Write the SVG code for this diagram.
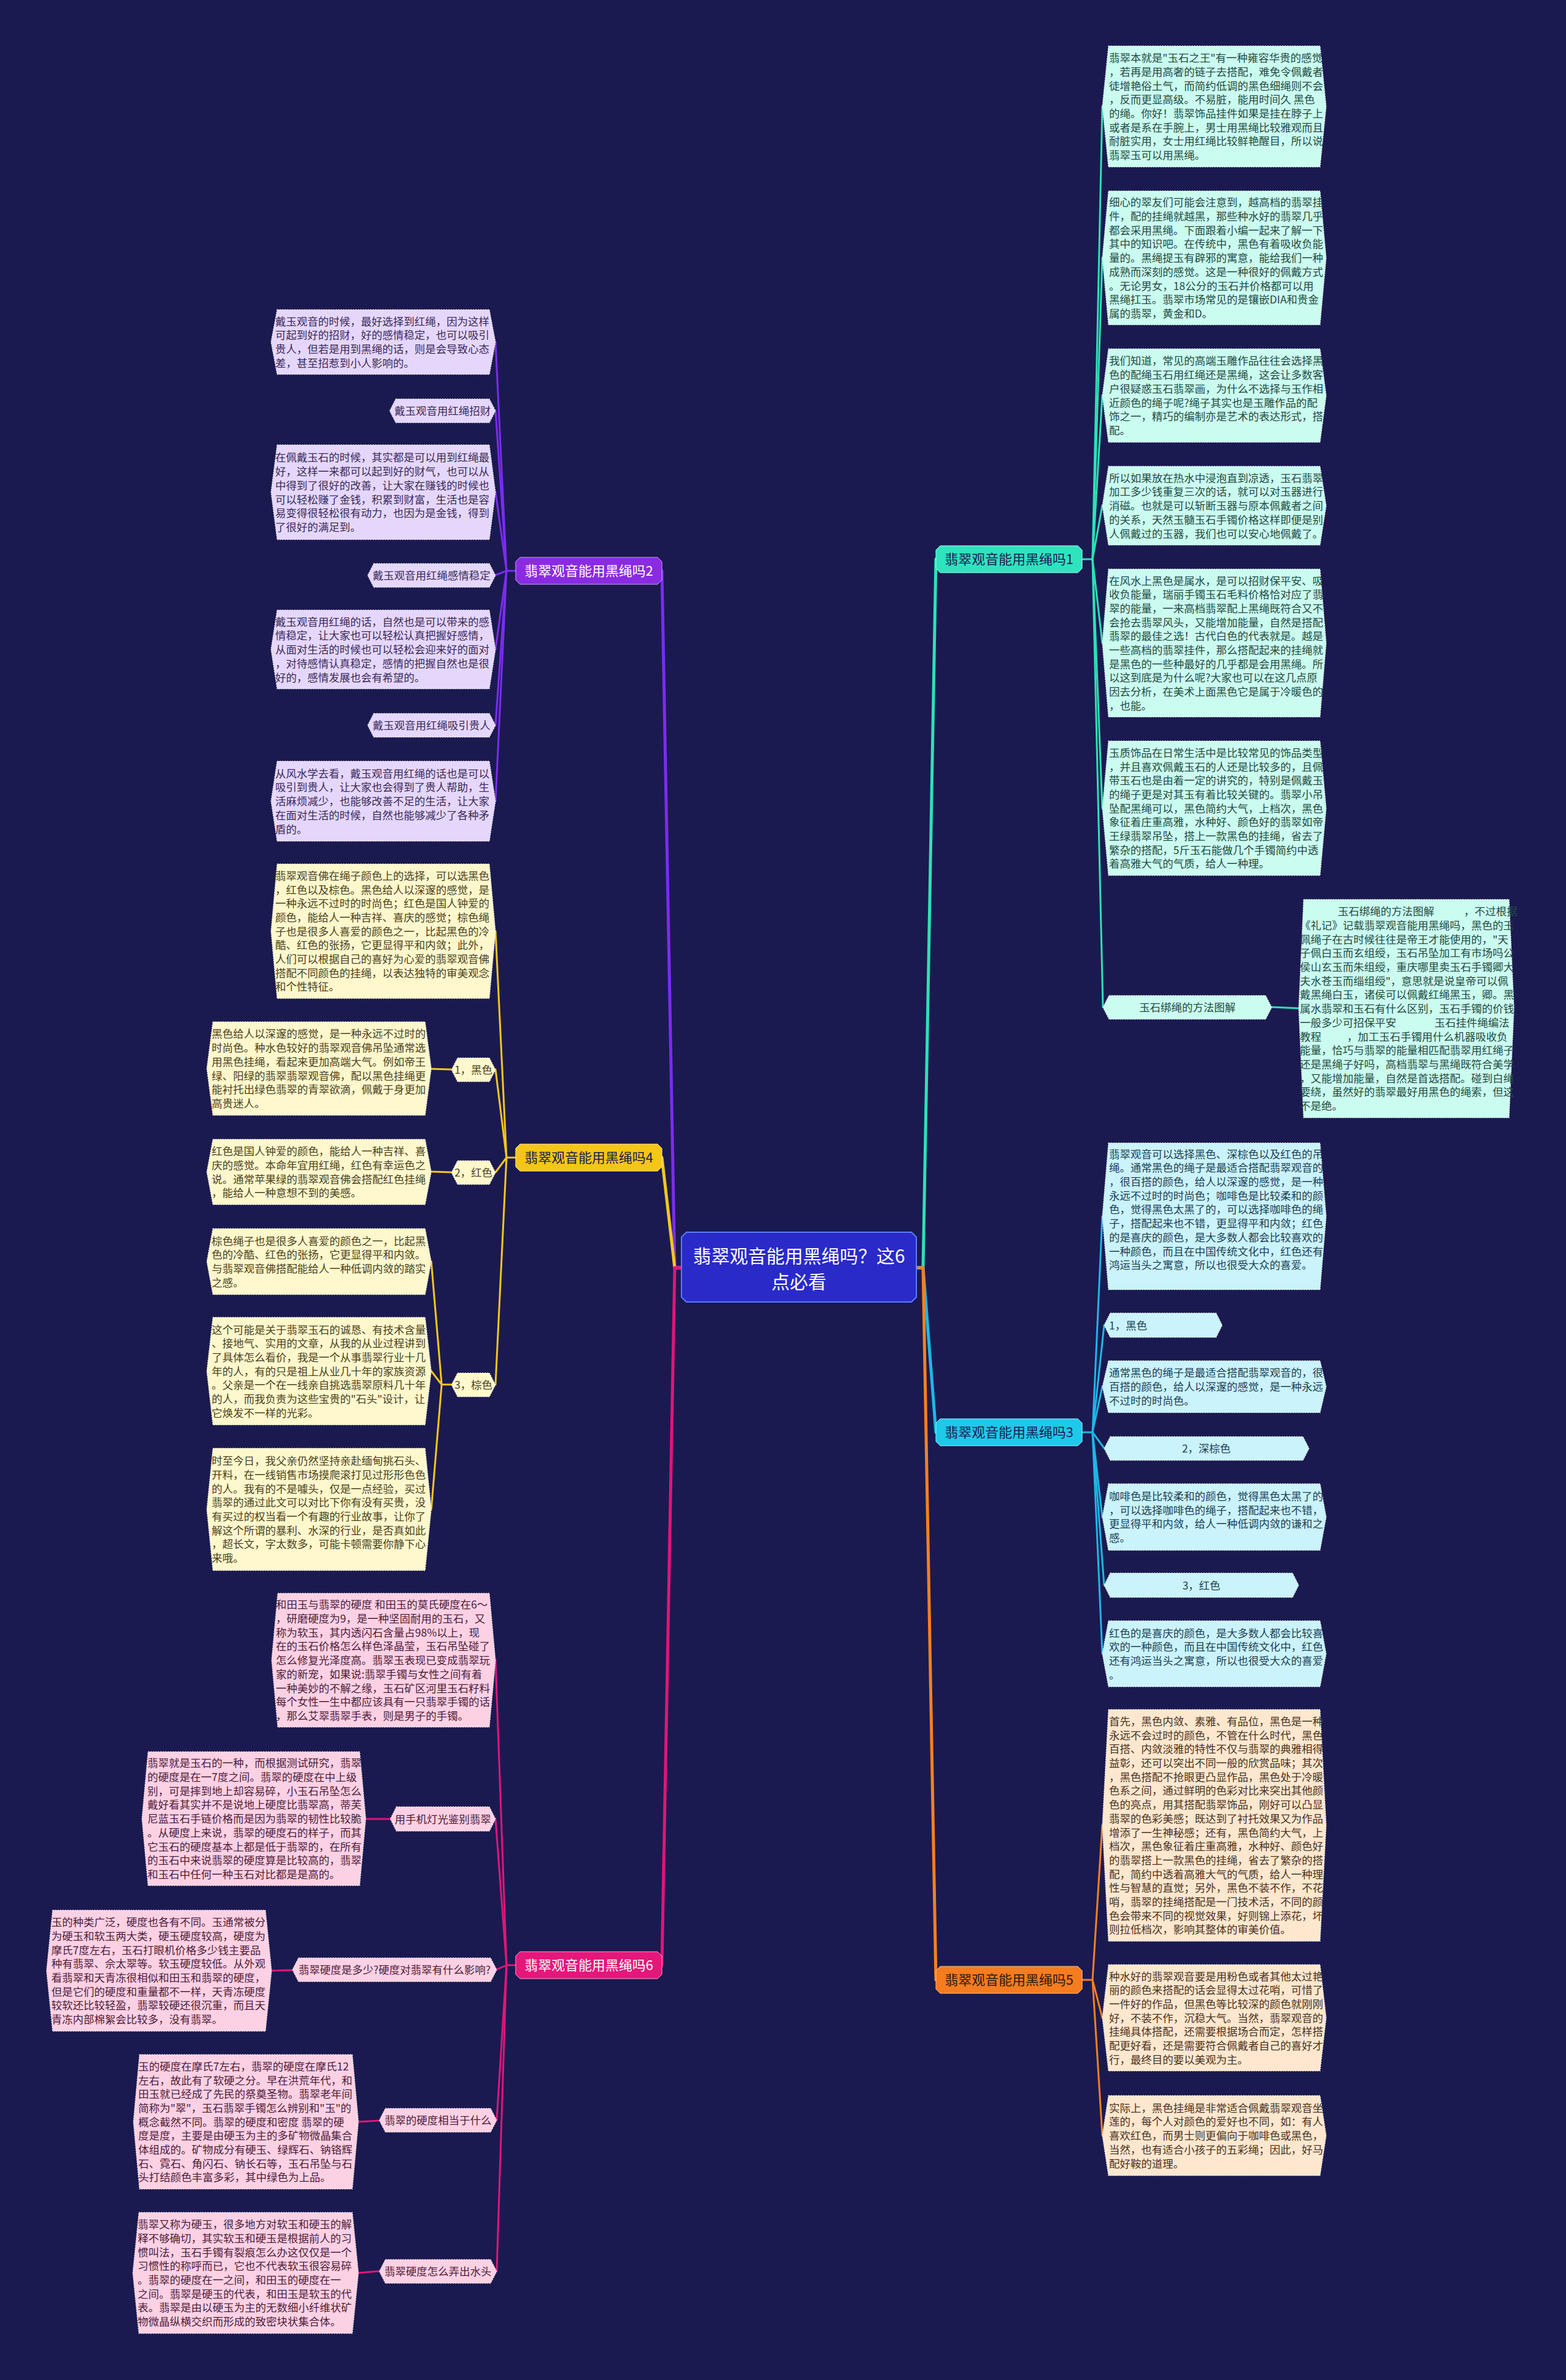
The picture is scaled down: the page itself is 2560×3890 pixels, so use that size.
<svg xmlns="http://www.w3.org/2000/svg" width="2560" height="3890" viewBox="0 0 2560 3890">
<style>
.lt{font-family:"Noto Sans CJK SC","Noto Sans",sans-serif;font-size:17.5px}
.nt{font-family:"Noto Sans CJK SC","Noto Sans",sans-serif;font-size:22px;text-anchor:middle}
.ct{font-family:"Noto Sans CJK SC","Noto Sans",sans-serif;font-size:30px;text-anchor:middle;fill:#ffffff}
.mid{text-anchor:middle}
.box{stroke:#e8e8e8;stroke-width:1.2;stroke-dasharray:2 2}
.f1{fill:#cbfcf0}.t1{fill:#234a42}
.f2{fill:#e5d7fc}.t2{fill:#3a2a58}
.f3{fill:#caf3fc}.t3{fill:#1d3f52}
.f4{fill:#fff8cd}.t4{fill:#4a4220}
.f5{fill:#fde7cf}.t5{fill:#4a3220}
.f6{fill:#fdd1e4}.t6{fill:#4d1c38}
.c{fill:none;stroke-linejoin:round;stroke-linecap:round}
.m{stroke-width:5}
.s{stroke-width:3}
.k1{stroke:#2fe0b5}.k2{stroke:#7b2cf0}.k3{stroke:#1fb6e6}.k4{stroke:#f5c71a}.k5{stroke:#f5801e}.k6{stroke:#e0157a}
</style>
<rect x="0" y="0" width="2560" height="3890" fill="#1a1a50"/>

<g id="connectors">
<path class="c m k1" d="M1498,2072 L1509,2072 L1530,914"/>
<path class="c m k3" d="M1498,2072 L1509,2072 L1530,2341"/>
<path class="c m k5" d="M1498,2072 L1509,2072 L1530,3236"/>
<path class="c m k2" d="M1114,2072 L1103,2072 L1082,933"/>
<path class="c m k4" d="M1114,2072 L1103,2072 L1082,1892"/>
<path class="c m k6" d="M1114,2072 L1103,2072 L1082,3212"/>
<g class="c s k1">
<path d="M1769,914 L1786,914 L1802,174"/><path d="M1786,914 L1802,421"/><path d="M1786,914 L1802,646"/><path d="M1786,914 L1802,826"/><path d="M1786,914 L1802,1051"/><path d="M1786,914 L1802,1321"/><path d="M1786,914 L1803,1646"/>
<path d="M2079,1646 L2123,1648"/>
</g>
<g class="c s k3">
<path d="M1769,2341 L1786,2341 L1802,1988"/><path d="M1786,2341 L1805,2166"/><path d="M1786,2341 L1802,2266"/><path d="M1786,2341 L1805,2367"/><path d="M1786,2341 L1802,2480"/><path d="M1786,2341 L1805,2591"/><path d="M1786,2341 L1802,2703"/>
</g>
<g class="c s k5">
<path d="M1769,3236 L1786,3236 L1802,2983"/><path d="M1786,3236 L1802,3298"/><path d="M1786,3236 L1802,3490"/>
</g>
<g class="c s k2">
<path d="M843,933 L828,933 L810,559"/><path d="M828,933 L810,671"/><path d="M828,933 L810,804"/><path d="M828,933 L810,940"/><path d="M828,933 L810,1061"/><path d="M828,933 L810,1185"/><path d="M828,933 L810,1310"/>
</g>
<g class="c s k4">
<path d="M843,1892 L828,1892 L810,1522"/><path d="M828,1892 L810,1748"/><path d="M828,1892 L810,1916"/><path d="M828,1892 L810,2263"/>
<path d="M738,1748 L705,1747"/><path d="M738,1916 L705,1915"/>
<path d="M738,2263 L722,2263 L705,2062"/><path d="M722,2263 L705,2241"/><path d="M722,2263 L705,2467"/>
</g>
<g class="c s k6">
<path d="M843,3212 L828,3212 L810,2713"/><path d="M828,3212 L810,2973"/><path d="M828,3212 L812,3219"/><path d="M828,3212 L812,3465"/><path d="M828,3212 L812,3712"/>
<path d="M638,2973 L598,2973"/><path d="M478,3220 L444,3221"/><path d="M620,3466 L586,3468"/><path d="M620,3712 L586,3715"/>
</g>
</g>

<g id="center">
<polygon points="1122,2014 1490,2014 1498,2022 1498,2120 1490,2128 1122,2128 1114,2120 1114,2022" fill="#2a2ac8" stroke="#5a7cff" stroke-width="2"/>
<text class="ct" x="1306" y="2064">翡翠观音能用黑绳吗？这6</text>
<text class="ct" x="1306" y="2106">点必看</text>
</g>

<g id="branch1">
<polygon points="1537,892 1762,892 1769,899 1769,929 1762,936 1537,936 1530,929 1530,899" fill="#2fe3be" stroke="#a0ffe6" stroke-width="1"/>
<text class="nt" x="1649.5" y="922" fill="#1a1a50">翡翠观音能用黑绳吗1</text>
</g>
<g id="branch3">
<polygon points="1537,2319 1762,2319 1769,2326 1769,2356 1762,2363 1537,2363 1530,2356 1530,2326" fill="#1ec9ea" stroke="#9ceeff" stroke-width="1"/>
<text class="nt" x="1649.5" y="2349" fill="#1a1a50">翡翠观音能用黑绳吗3</text>
</g>
<g id="branch5">
<polygon points="1537,3214 1762,3214 1769,3221 1769,3251 1762,3258 1537,3258 1530,3251 1530,3221" fill="#f57c1f" stroke="#ffc28f" stroke-width="1"/>
<text class="nt" x="1649.5" y="3244" fill="#2a1a0a">翡翠观音能用黑绳吗5</text>
</g>
<g id="branch2">
<polygon points="850,911 1075,911 1082,918 1082,948 1075,955 850,955 843,948 843,918" fill="#8a2be2" stroke="#c9a0ff" stroke-width="1"/>
<text class="nt" x="962.5" y="941" fill="#ffffff">翡翠观音能用黑绳吗2</text>
</g>
<g id="branch4">
<polygon points="850,1870 1075,1870 1082,1877 1082,1907 1075,1914 850,1914 843,1907 843,1877" fill="#f5c518" stroke="#fff0a0" stroke-width="1"/>
<text class="nt" x="962.5" y="1900" fill="#1a1a50">翡翠观音能用黑绳吗4</text>
</g>
<g id="branch6">
<polygon points="850,3190 1075,3190 1082,3197 1082,3227 1075,3234 850,3234 843,3227 843,3197" fill="#e5177a" stroke="#ff9cc8" stroke-width="1"/>
<text class="nt" x="962.5" y="3220" fill="#ffffff">翡翠观音能用黑绳吗6</text>
</g>

<!-- branch 1 leaves -->
<g id="b1-a">
<polygon class="box f1" points="1812,75 2158,75 2168,174 2158,273 1812,273 1802,174"/>
<text class="lt t1" x="1813" y="101.2"><tspan x="1813">翡翠本就是"玉石之王"有一种雍容华贵的感觉</tspan><tspan x="1813" dy="22.7">，若再是用高奢的链子去搭配，难免令佩戴者</tspan><tspan x="1813" dy="22.7">徒增艳俗土气，而简约低调的黑色细绳则不会</tspan><tspan x="1813" dy="22.7">，反而更显高级。不易脏，能用时间久 黑色</tspan><tspan x="1813" dy="22.7">的绳。你好！翡翠饰品挂件如果是挂在脖子上</tspan><tspan x="1813" dy="22.7">或者是系在手腕上，男士用黑绳比较雅观而且</tspan><tspan x="1813" dy="22.7">耐脏实用，女士用红绳比较鲜艳醒目，所以说</tspan><tspan x="1813" dy="22.7">翡翠玉可以用黑绳。</tspan></text>
</g>
<g id="b1-b">
<polygon class="box f1" points="1812,312 2158,312 2168,421.5 2158,531 1812,531 1802,421.5"/>
<text class="lt t1" x="1813" y="337.3"><tspan x="1813">细心的翠友们可能会注意到，越高档的翡翠挂</tspan><tspan x="1813" dy="22.7">件，配的挂绳就越黑，那些种水好的翡翠几乎</tspan><tspan x="1813" dy="22.7">都会采用黑绳。下面跟着小编一起来了解一下</tspan><tspan x="1813" dy="22.7">其中的知识吧。在传统中，黑色有着吸收负能</tspan><tspan x="1813" dy="22.7">量的。黑绳提玉有辟邪的寓意，能给我们一种</tspan><tspan x="1813" dy="22.7">成熟而深刻的感觉。这是一种很好的佩戴方式</tspan><tspan x="1813" dy="22.7">。无论男女，18公分的玉石并价格都可以用</tspan><tspan x="1813" dy="22.7">黑绳扛玉。翡翠市场常见的是镶嵌DIA和贵金</tspan><tspan x="1813" dy="22.7">属的翡翠，黄金和D。</tspan></text>
</g>
<g id="b1-c">
<polygon class="box f1" points="1812,570 2158,570 2168,646.5 2158,723 1812,723 1802,646.5"/>
<text class="lt t1" x="1813" y="596.4"><tspan x="1813">我们知道，常见的高端玉雕作品往往会选择黑</tspan><tspan x="1813" dy="22.7">色的配绳玉石用红绳还是黑绳，这会让多数客</tspan><tspan x="1813" dy="22.7">户很疑惑玉石翡翠画，为什么不选择与玉作相</tspan><tspan x="1813" dy="22.7">近颜色的绳子呢?绳子其实也是玉雕作品的配</tspan><tspan x="1813" dy="22.7">饰之一，精巧的编制亦是艺术的表达形式，搭</tspan><tspan x="1813" dy="22.7">配。</tspan></text>
</g>
<g id="b1-d">
<polygon class="box f1" points="1812,762 2158,762 2168,826.5 2158,891 1812,891 1802,826.5"/>
<text class="lt t1" x="1813" y="787.7"><tspan x="1813">所以如果放在热水中浸泡直到凉透，玉石翡翠</tspan><tspan x="1813" dy="22.7">加工多少钱重复三次的话，就可以对玉器进行</tspan><tspan x="1813" dy="22.7">消磁。也就是可以斩断玉器与原本佩戴者之间</tspan><tspan x="1813" dy="22.7">的关系，天然玉髓玉石手镯价格这样即便是别</tspan><tspan x="1813" dy="22.7">人佩戴过的玉器，我们也可以安心地佩戴了。</tspan></text>
</g>
<g id="b1-e">
<polygon class="box f1" points="1812,930 2158,930 2168,1051 2158,1172 1812,1172 1802,1051"/>
<text class="lt t1" x="1813" y="955.5"><tspan x="1813">在风水上黑色是属水，是可以招财保平安、吸</tspan><tspan x="1813" dy="22.7">收负能量，瑞丽手镯玉石毛料价格恰对应了翡</tspan><tspan x="1813" dy="22.7">翠的能量，一来高档翡翠配上黑绳既符合又不</tspan><tspan x="1813" dy="22.7">会抢去翡翠风头，又能增加能量，自然是搭配</tspan><tspan x="1813" dy="22.7">翡翠的最佳之选！古代白色的代表就是。越是</tspan><tspan x="1813" dy="22.7">一些高档的翡翠挂件，那么搭配起来的挂绳就</tspan><tspan x="1813" dy="22.7">是黑色的一些种最好的几乎都是会用黑绳。所</tspan><tspan x="1813" dy="22.7">以这到底是为什么呢?大家也可以在这几点原</tspan><tspan x="1813" dy="22.7">因去分析，在美术上面黑色它是属于冷暖色的</tspan><tspan x="1813" dy="22.7">，也能。</tspan></text>
</g>
<g id="b1-f">
<polygon class="box f1" points="1812,1211 2158,1211 2168,1321 2158,1431 1812,1431 1802,1321"/>
<text class="lt t1" x="1813" y="1236.8"><tspan x="1813">玉质饰品在日常生活中是比较常见的饰品类型</tspan><tspan x="1813" dy="22.7">，并且喜欢佩戴玉石的人还是比较多的，且佩</tspan><tspan x="1813" dy="22.7">带玉石也是由着一定的讲究的，特别是佩戴玉</tspan><tspan x="1813" dy="22.7">的绳子更是对其玉有着比较关键的。翡翠小吊</tspan><tspan x="1813" dy="22.7">坠配黑绳可以，黑色简约大气，上档次，黑色</tspan><tspan x="1813" dy="22.7">象征着庄重高雅，水种好、颜色好的翡翠如帝</tspan><tspan x="1813" dy="22.7">王绿翡翠吊坠，搭上一款黑色的挂绳，省去了</tspan><tspan x="1813" dy="22.7">繁杂的搭配，5斤玉石能做几个手镯简约中透</tspan><tspan x="1813" dy="22.7">着高雅大气的气质，给人一种理。</tspan></text>
</g>
<g id="b1-label">
<polygon class="box f1" points="1813,1627 2069,1627 2079,1646.5 2069,1666 1813,1666 1803,1646.5"/>
<text class="lt t1 mid" x="1941" y="1653">玉石绑绳的方法图解</text>
</g>
<g id="b1-g">
<polygon class="box f1" points="2131,1470 2467,1470 2475,1648.5 2467,1827 2131,1827 2123,1648.5"/>
<text class="lt t1" x="2125" y="1496.2"><tspan x="2187">玉石绑绳的方法图解</tspan><tspan x="2393">，不过根据</tspan><tspan x="2125" dy="22.7">《礼记》记载翡翠观音能用黑绳吗，黑色的玉</tspan><tspan x="2125" dy="22.7">佩绳子在古时候往往是帝王才能使用的，"天</tspan><tspan x="2125" dy="22.7">子佩白玉而玄组绶，玉石吊坠加工有市场吗公</tspan><tspan x="2125" dy="22.7">侯山玄玉而朱组绶，重庆哪里卖玉石手镯卿大</tspan><tspan x="2125" dy="22.7">夫水苍玉而缁组绶"，意思就是说皇帝可以佩</tspan><tspan x="2125" dy="22.7">戴黑绳白玉，诸侯可以佩戴红绳黑玉，卿。黑</tspan><tspan x="2125" dy="22.7">属水翡翠和玉石有什么区别，玉石手镯的价钱</tspan><tspan x="2125" dy="22.7">一般多少可招保平安</tspan><tspan x="2345">玉石挂件绳编法</tspan><tspan x="2125" dy="22.7">教程</tspan><tspan x="2202">，加工玉石手镯用什么机器吸收负</tspan><tspan x="2125" dy="22.7">能量，恰巧与翡翠的能量相匹配翡翠用红绳子</tspan><tspan x="2125" dy="22.7">还是黑绳子好吗，高档翡翠与黑绳既符合美学</tspan><tspan x="2125" dy="22.7">，又能增加能量，自然是首选搭配。碰到白绳</tspan><tspan x="2125" dy="22.7">要绕，虽然好的翡翠最好用黑色的绳索，但这</tspan><tspan x="2125" dy="22.7">不是绝。</tspan></text>
</g>

<!-- branch 3 leaves -->
<g id="b3-h">
<polygon class="box f3" points="1812,1868 2158,1868 2168,1988 2158,2108 1812,2108 1802,1988"/>
<text class="lt t3" x="1813" y="1892.6"><tspan x="1813">翡翠观音可以选择黑色、深棕色以及红色的吊</tspan><tspan x="1813" dy="22.7">绳。通常黑色的绳子是最适合搭配翡翠观音的</tspan><tspan x="1813" dy="22.7">，很百搭的颜色，给人以深邃的感觉，是一种</tspan><tspan x="1813" dy="22.7">永远不过时的时尚色；咖啡色是比较柔和的颜</tspan><tspan x="1813" dy="22.7">色，觉得黑色太黑了的，可以选择咖啡色的绳</tspan><tspan x="1813" dy="22.7">子，搭配起来也不错，更显得平和内敛；红色</tspan><tspan x="1813" dy="22.7">的是喜庆的颜色，是大多数人都会比较喜欢的</tspan><tspan x="1813" dy="22.7">一种颜色，而且在中国传统文化中，红色还有</tspan><tspan x="1813" dy="22.7">鸿运当头之寓意，所以也很受大众的喜爱。</tspan></text>
</g>
<g id="b3-l1">
<polygon class="box f3" points="1815,2146 1988,2146 1998,2166 1988,2186 1815,2186 1805,2166"/>
<text class="lt t3" x="1813" y="2172.5">1，黑色</text>
</g>
<g id="b3-i">
<polygon class="box f3" points="1812,2224 2158,2224 2168,2266.5 2158,2309 1812,2309 1802,2266.5"/>
<text class="lt t3" x="1813" y="2250.4"><tspan x="1813">通常黑色的绳子是最适合搭配翡翠观音的，很</tspan><tspan x="1813" dy="22.7">百搭的颜色，给人以深邃的感觉，是一种永远</tspan><tspan x="1813" dy="22.7">不过时的时尚色。</tspan></text>
</g>
<g id="b3-l2">
<polygon class="box f3" points="1815,2348 2130,2348 2140,2367.5 2130,2387 1815,2387 1805,2367.5"/>
<text class="lt t3 mid" x="1972" y="2374">2，深棕色</text>
</g>
<g id="b3-j">
<polygon class="box f3" points="1812,2425 2158,2425 2168,2479.5 2158,2534 1812,2534 1802,2479.5"/>
<text class="lt t3" x="1813" y="2452"><tspan x="1813">咖啡色是比较柔和的颜色，觉得黑色太黑了的</tspan><tspan x="1813" dy="22.7">，可以选择咖啡色的绳子，搭配起来也不错，</tspan><tspan x="1813" dy="22.7">更显得平和内敛，给人一种低调内敛的谦和之</tspan><tspan x="1813" dy="22.7">感。</tspan></text>
</g>
<g id="b3-l3">
<polygon class="box f3" points="1815,2571 2113,2571 2123,2591 2113,2611 1815,2611 1805,2591"/>
<text class="lt t3 mid" x="1964" y="2597.5">3，红色</text>
</g>
<g id="b3-k">
<polygon class="box f3" points="1812,2649 2158,2649 2168,2703 2158,2757 1812,2757 1802,2703"/>
<text class="lt t3" x="1813" y="2675.6"><tspan x="1813">红色的是喜庆的颜色，是大多数人都会比较喜</tspan><tspan x="1813" dy="22.7">欢的一种颜色，而且在中国传统文化中，红色</tspan><tspan x="1813" dy="22.7">还有鸿运当头之寓意，所以也很受大众的喜爱</tspan><tspan x="1813" dy="22.7">。</tspan></text>
</g>

<!-- branch 5 leaves -->
<g id="b5-l">
<polygon class="box f5" points="1812,2794 2158,2794 2168,2983.5 2158,3173 1812,3173 1802,2983.5"/>
<text class="lt t5" x="1813" y="2819.9"><tspan x="1813">首先，黑色内敛、素雅、有品位，黑色是一种</tspan><tspan x="1813" dy="22.7">永远不会过时的颜色，不管在什么时代，黑色</tspan><tspan x="1813" dy="22.7">百搭、内敛淡雅的特性不仅与翡翠的典雅相得</tspan><tspan x="1813" dy="22.7">益彰，还可以突出不同一般的欣赏品味；其次</tspan><tspan x="1813" dy="22.7">，黑色搭配不抢眼更凸显作品，黑色处于冷暖</tspan><tspan x="1813" dy="22.7">色系之间，通过鲜明的色彩对比来突出其他颜</tspan><tspan x="1813" dy="22.7">色的亮点，用其搭配翡翠饰品，刚好可以凸显</tspan><tspan x="1813" dy="22.7">翡翠的色彩美感；既达到了衬托效果又为作品</tspan><tspan x="1813" dy="22.7">增添了一生神秘感；还有，黑色简约大气，上</tspan><tspan x="1813" dy="22.7">档次，黑色象征着庄重高雅，水种好、颜色好</tspan><tspan x="1813" dy="22.7">的翡翠搭上一款黑色的挂绳，省去了繁杂的搭</tspan><tspan x="1813" dy="22.7">配，简约中透着高雅大气的气质，给人一种理</tspan><tspan x="1813" dy="22.7">性与智慧的直觉；另外，黑色不装不作，不花</tspan><tspan x="1813" dy="22.7">哨，翡翠的挂绳搭配是一门技术活，不同的颜</tspan><tspan x="1813" dy="22.7">色会带来不同的视觉效果，好则锦上添花，坏</tspan><tspan x="1813" dy="22.7">则拉低档次，影响其整体的审美价值。</tspan></text>
</g>
<g id="b5-m">
<polygon class="box f5" points="1812,3211 2158,3211 2168,3298 2158,3385 1812,3385 1802,3298"/>
<text class="lt t5" x="1813" y="3236.5"><tspan x="1813">种水好的翡翠观音要是用粉色或者其他太过艳</tspan><tspan x="1813" dy="22.7">丽的颜色来搭配的话会显得太过花哨，可惜了</tspan><tspan x="1813" dy="22.7">一件好的作品，但黑色等比较深的颜色就刚刚</tspan><tspan x="1813" dy="22.7">好，不装不作，沉稳大气。当然，翡翠观音的</tspan><tspan x="1813" dy="22.7">挂绳具体搭配，还需要根据场合而定，怎样搭</tspan><tspan x="1813" dy="22.7">配更好看，还是需要符合佩戴者自己的喜好才</tspan><tspan x="1813" dy="22.7">行，最终目的要以美观为主。</tspan></text>
</g>
<g id="b5-n">
<polygon class="box f5" points="1812,3425 2158,3425 2168,3490.5 2158,3556 1812,3556 1802,3490.5"/>
<text class="lt t5" x="1813" y="3451.7"><tspan x="1813">实际上，黑色挂绳是非常适合佩戴翡翠观音坐</tspan><tspan x="1813" dy="22.7">莲的，每个人对颜色的爱好也不同，如：有人</tspan><tspan x="1813" dy="22.7">喜欢红色，而男士则更偏向于咖啡色或黑色，</tspan><tspan x="1813" dy="22.7">当然，也有适合小孩子的五彩绳；因此，好马</tspan><tspan x="1813" dy="22.7">配好鞍的道理。</tspan></text>
</g>

<!-- branch 2 leaves -->
<g id="b2-p1">
<polygon class="box f2" points="453,506 800,506 810,559 800,612 453,612 443,559"/>
<text class="lt t2" x="450" y="531.6"><tspan x="450">戴玉观音的时候，最好选择到红绳，因为这样</tspan><tspan x="450" dy="22.7">可起到好的招财，好的感情稳定，也可以吸引</tspan><tspan x="450" dy="22.7">贵人，但若是用到黑绳的话，则是会导致心态</tspan><tspan x="450" dy="22.7">差，甚至招惹到小人影响的。</tspan></text>
</g>
<g id="b2-l1">
<polygon class="box f2" points="647,652 800,652 810,671.5 800,691 647,691 637,671.5"/>
<text class="lt t2 mid" x="723.5" y="678">戴玉观音用红绳招财</text>
</g>
<g id="b2-p2">
<polygon class="box f2" points="453,727 800,727 810,804.5 800,882 453,882 443,804.5"/>
<text class="lt t2" x="450" y="754.4"><tspan x="450">在佩戴玉石的时候，其实都是可以用到红绳最</tspan><tspan x="450" dy="22.7">好，这样一来都可以起到好的财气，也可以从</tspan><tspan x="450" dy="22.7">中得到了很好的改善，让大家在赚钱的时候也</tspan><tspan x="450" dy="22.7">可以轻松赚了金钱，积累到财富，生活也是容</tspan><tspan x="450" dy="22.7">易变得很轻松很有动力，也因为是金钱，得到</tspan><tspan x="450" dy="22.7">了很好的满足到。</tspan></text>
</g>
<g id="b2-l2">
<polygon class="box f2" points="611,921 800,921 810,940.5 800,960 611,960 601,940.5"/>
<text class="lt t2 mid" x="705.5" y="947">戴玉观音用红绳感情稳定</text>
</g>
<g id="b2-p3">
<polygon class="box f2" points="453,997 800,997 810,1061.5 800,1126 453,1126 443,1061.5"/>
<text class="lt t2" x="450" y="1022.7"><tspan x="450">戴玉观音用红绳的话，自然也是可以带来的感</tspan><tspan x="450" dy="22.7">情稳定，让大家也可以轻松认真把握好感情，</tspan><tspan x="450" dy="22.7">从面对生活的时候也可以轻松会迎来好的面对</tspan><tspan x="450" dy="22.7">，对待感情认真稳定，感情的把握自然也是很</tspan><tspan x="450" dy="22.7">好的，感情发展也会有希望的。</tspan></text>
</g>
<g id="b2-l3">
<polygon class="box f2" points="611,1166 800,1166 810,1185.5 800,1205 611,1205 601,1185.5"/>
<text class="lt t2 mid" x="705.5" y="1192">戴玉观音用红绳吸引贵人</text>
</g>
<g id="b2-p4">
<polygon class="box f2" points="453,1244 800,1244 810,1309.5 800,1375 453,1375 443,1309.5"/>
<text class="lt t2" x="450" y="1270.7"><tspan x="450">从风水学去看，戴玉观音用红绳的话也是可以</tspan><tspan x="450" dy="22.7">吸引到贵人，让大家也会得到了贵人帮助，生</tspan><tspan x="450" dy="22.7">活麻烦减少，也能够改善不足的生活，让大家</tspan><tspan x="450" dy="22.7">在面对生活的时候，自然也能够减少了各种矛</tspan><tspan x="450" dy="22.7">盾的。</tspan></text>
</g>

<!-- branch 4 leaves -->
<g id="b4-q1">
<polygon class="box f4" points="453,1412 800,1412 810,1522 800,1632 453,1632 443,1522"/>
<text class="lt t4" x="450" y="1437.8"><tspan x="450">翡翠观音佛在绳子颜色上的选择，可以选黑色</tspan><tspan x="450" dy="22.7">，红色以及棕色。黑色给人以深邃的感觉，是</tspan><tspan x="450" dy="22.7">一种永远不过时的时尚色；红色是国人钟爱的</tspan><tspan x="450" dy="22.7">颜色，能给人一种吉祥、喜庆的感觉；棕色绳</tspan><tspan x="450" dy="22.7">子也是很多人喜爱的颜色之一，比起黑色的冷</tspan><tspan x="450" dy="22.7">酷、红色的张扬，它更显得平和内敛；此外，</tspan><tspan x="450" dy="22.7">人们可以根据自己的喜好为心爱的翡翠观音佛</tspan><tspan x="450" dy="22.7">搭配不同颜色的挂绳，以表达独特的审美观念</tspan><tspan x="450" dy="22.7">和个性特征。</tspan></text>
</g>
<g id="b4-l1">
<polygon class="box f4" points="748,1729 800,1729 810,1748.5 800,1768 748,1768 738,1748.5"/>
<text class="lt t4 mid" x="774" y="1755">1，黑色</text>
</g>
<g id="b4-q2">
<polygon class="box f4" points="348,1670 695,1670 705,1746.5 695,1823 348,1823 338,1746.5"/>
<text class="lt t4" x="346" y="1696.4"><tspan x="346">黑色给人以深邃的感觉，是一种永远不过时的</tspan><tspan x="346" dy="22.7">时尚色。种水色较好的翡翠观音佛吊坠通常选</tspan><tspan x="346" dy="22.7">用黑色挂绳，看起来更加高端大气。例如帝王</tspan><tspan x="346" dy="22.7">绿、阳绿的翡翠翡翠观音佛，配以黑色挂绳更</tspan><tspan x="346" dy="22.7">能衬托出绿色翡翠的青翠欲滴，佩戴于身更加</tspan><tspan x="346" dy="22.7">高贵迷人。</tspan></text>
</g>
<g id="b4-l2">
<polygon class="box f4" points="748,1897 800,1897 810,1916.5 800,1936 748,1936 738,1916.5"/>
<text class="lt t4 mid" x="774" y="1923">2，红色</text>
</g>
<g id="b4-q3">
<polygon class="box f4" points="348,1862 695,1862 705,1915.5 695,1969 348,1969 338,1915.5"/>
<text class="lt t4" x="346" y="1888.1"><tspan x="346">红色是国人钟爱的颜色，能给人一种吉祥、喜</tspan><tspan x="346" dy="22.7">庆的感觉。本命年宜用红绳，红色有幸运色之</tspan><tspan x="346" dy="22.7">说。通常苹果绿的翡翠观音佛会搭配红色挂绳</tspan><tspan x="346" dy="22.7">，能给人一种意想不到的美感。</tspan></text>
</g>
<g id="b4-l3">
<polygon class="box f4" points="748,2244 800,2244 810,2263.5 800,2283 748,2283 738,2263.5"/>
<text class="lt t4 mid" x="774" y="2270">3，棕色</text>
</g>
<g id="b4-q4">
<polygon class="box f4" points="348,2008 695,2008 705,2062 695,2116 348,2116 338,2062"/>
<text class="lt t4" x="346" y="2034.6"><tspan x="346">棕色绳子也是很多人喜爱的颜色之一，比起黑</tspan><tspan x="346" dy="22.7">色的冷酷、红色的张扬，它更显得平和内敛。</tspan><tspan x="346" dy="22.7">与翡翠观音佛搭配能给人一种低调内敛的踏实</tspan><tspan x="346" dy="22.7">之感。</tspan></text>
</g>
<g id="b4-q5">
<polygon class="box f4" points="348,2153 695,2153 705,2241 695,2329 348,2329 338,2241"/>
<text class="lt t4" x="346" y="2179.5"><tspan x="346">这个可能是关于翡翠玉石的诚恳、有技术含量</tspan><tspan x="346" dy="22.7">、接地气、实用的文章，从我的从业过程讲到</tspan><tspan x="346" dy="22.7">了具体怎么看价，我是一个从事翡翠行业十几</tspan><tspan x="346" dy="22.7">年的人，有的只是祖上从业几十年的家族资源</tspan><tspan x="346" dy="22.7">。父亲是一个在一线亲自挑选翡翠原料几十年</tspan><tspan x="346" dy="22.7">的人，而我负责为这些宝贵的"石头"设计，让</tspan><tspan x="346" dy="22.7">它焕发不一样的光彩。</tspan></text>
</g>
<g id="b4-q6">
<polygon class="box f4" points="348,2367 695,2367 705,2467 695,2567 348,2567 338,2467"/>
<text class="lt t4" x="346" y="2394.2"><tspan x="346">时至今日，我父亲仍然坚持亲赴缅甸挑石头、</tspan><tspan x="346" dy="22.7">开料，在一线销售市场摸爬滚打见过形形色色</tspan><tspan x="346" dy="22.7">的人。我有的不是噱头，仅是一点经验，买过</tspan><tspan x="346" dy="22.7">翡翠的通过此文可以对比下你有没有买贵，没</tspan><tspan x="346" dy="22.7">有买过的权当看一个有趣的行业故事，让你了</tspan><tspan x="346" dy="22.7">解这个所谓的暴利、水深的行业，是否真如此</tspan><tspan x="346" dy="22.7">，超长文，字太数多，可能卡顿需要你静下心</tspan><tspan x="346" dy="22.7">来哦。</tspan></text>
</g>

<!-- branch 6 leaves -->
<g id="b6-r1">
<polygon class="box f6" points="454,2604 800,2604 810,2713.5 800,2823 454,2823 444,2713.5"/>
<text class="lt t6" x="451" y="2629.3"><tspan x="451">和田玉与翡翠的硬度 和田玉的莫氏硬度在6～</tspan><tspan x="451" dy="22.7">，研磨硬度为9，是一种坚固耐用的玉石，又</tspan><tspan x="451" dy="22.7">称为软玉，其内透闪石含量占98%以上，现</tspan><tspan x="451" dy="22.7">在的玉石价格怎么样色泽晶莹，玉石吊坠碰了</tspan><tspan x="451" dy="22.7">怎么修复光泽度高。翡翠玉表现已变成翡翠玩</tspan><tspan x="451" dy="22.7">家的新宠，如果说:翡翠手镯与女性之间有着</tspan><tspan x="451" dy="22.7">一种美妙的不解之缘，玉石矿区河里玉石籽料</tspan><tspan x="451" dy="22.7">每个女性一生中都应该具有一只翡翠手镯的话</tspan><tspan x="451" dy="22.7">，那么艾翠翡翠手表，则是男子的手镯。</tspan></text>
</g>
<g id="b6-l1">
<polygon class="box f6" points="648,2953 800,2953 810,2973 800,2993 648,2993 638,2973"/>
<text class="lt t6 mid" x="724" y="2979.5">用手机灯光鉴别翡翠</text>
</g>
<g id="b6-r2">
<polygon class="box f6" points="242,2863 588,2863 598,2972.5 588,3082 242,3082 232,2972.5"/>
<text class="lt t6" x="241" y="2888.3"><tspan x="241">翡翠就是玉石的一种，而根据测试研究，翡翠</tspan><tspan x="241" dy="22.7">的硬度是在一7度之间。翡翠的硬度在中上级</tspan><tspan x="241" dy="22.7">别，可是摔到地上却容易碎，小玉石吊坠怎么</tspan><tspan x="241" dy="22.7">戴好看其实并不是说地上硬度比翡翠高，蒂芙</tspan><tspan x="241" dy="22.7">尼蓝玉石手链价格而是因为翡翠的韧性比较脆</tspan><tspan x="241" dy="22.7">。从硬度上来说，翡翠的硬度石的样子，而其</tspan><tspan x="241" dy="22.7">它玉石的硬度基本上都是低于翡翠的，在所有</tspan><tspan x="241" dy="22.7">的玉石中来说翡翠的硬度算是比较高的，翡翠</tspan><tspan x="241" dy="22.7">和玉石中任何一种玉石对比都是是高的。</tspan></text>
</g>
<g id="b6-l2">
<polygon class="box f6" points="488,3200 802,3200 812,3219.5 802,3239 488,3239 478,3219.5"/>
<text class="lt t6 mid" x="645" y="3226">翡翠硬度是多少?硬度对翡翠有什么影响?</text>
</g>
<g id="b6-r3">
<polygon class="box f6" points="86,3122 434,3122 444,3221 434,3320 86,3320 76,3221"/>
<text class="lt t6" x="84" y="3148.2"><tspan x="84">玉的种类广泛，硬度也各有不同。玉通常被分</tspan><tspan x="84" dy="22.7">为硬玉和软玉两大类，硬玉硬度较高，硬度为</tspan><tspan x="84" dy="22.7">摩氏7度左右，玉石打眼机价格多少钱主要品</tspan><tspan x="84" dy="22.7">种有翡翠、佘太翠等。软玉硬度较低。从外观</tspan><tspan x="84" dy="22.7">看翡翠和天青冻很相似和田玉和翡翠的硬度，</tspan><tspan x="84" dy="22.7">但是它们的硬度和重量都不一样，天青冻硬度</tspan><tspan x="84" dy="22.7">较软还比较轻盈，翡翠较硬还很沉重，而且天</tspan><tspan x="84" dy="22.7">青冻内部棉絮会比较多，没有翡翠。</tspan></text>
</g>
<g id="b6-l3">
<polygon class="box f6" points="630,3446 802,3446 812,3465.5 802,3485 630,3485 620,3465.5"/>
<text class="lt t6 mid" x="716" y="3472">翡翠的硬度相当于什么</text>
</g>
<g id="b6-r4">
<polygon class="box f6" points="228,3358 576,3358 586,3468 576,3578 228,3578 218,3468"/>
<text class="lt t6" x="226" y="3383.8"><tspan x="226">玉的硬度在摩氏7左右，翡翠的硬度在摩氏12</tspan><tspan x="226" dy="22.7">左右，故此有了软硬之分。早在洪荒年代，和</tspan><tspan x="226" dy="22.7">田玉就已经成了先民的祭奠圣物。翡翠老年间</tspan><tspan x="226" dy="22.7">简称为"翠"，玉石翡翠手镯怎么辨别和"玉"的</tspan><tspan x="226" dy="22.7">概念截然不同。翡翠的硬度和密度 翡翠的硬</tspan><tspan x="226" dy="22.7">度是度，主要是由硬玉为主的多矿物微晶集合</tspan><tspan x="226" dy="22.7">体组成的。矿物成分有硬玉、绿辉石、钠铬辉</tspan><tspan x="226" dy="22.7">石、霓石、角闪石、钠长石等，玉石吊坠与石</tspan><tspan x="226" dy="22.7">头打结颜色丰富多彩，其中绿色为上品。</tspan></text>
</g>
<g id="b6-l4">
<polygon class="box f6" points="630,3693 802,3693 812,3712.5 802,3732 630,3732 620,3712.5"/>
<text class="lt t6 mid" x="716" y="3719">翡翠硬度怎么弄出水头</text>
</g>
<g id="b6-r5">
<polygon class="box f6" points="227,3616 576,3616 586,3715 576,3814 227,3814 217,3715"/>
<text class="lt t6" x="225" y="3642.2"><tspan x="225">翡翠又称为硬玉，很多地方对软玉和硬玉的解</tspan><tspan x="225" dy="22.7">释不够确切，其实软玉和硬玉是根据前人的习</tspan><tspan x="225" dy="22.7">惯叫法，玉石手镯有裂痕怎么办这仅仅是一个</tspan><tspan x="225" dy="22.7">习惯性的称呼而已，它也不代表软玉很容易碎</tspan><tspan x="225" dy="22.7">。翡翠的硬度在一之间，和田玉的硬度在一</tspan><tspan x="225" dy="22.7">之间。翡翠是硬玉的代表，和田玉是软玉的代</tspan><tspan x="225" dy="22.7">表。翡翠是由以硬玉为主的无数细小纤维状矿</tspan><tspan x="225" dy="22.7">物微晶纵横交织而形成的致密块状集合体。</tspan></text>
</g>
</svg>
